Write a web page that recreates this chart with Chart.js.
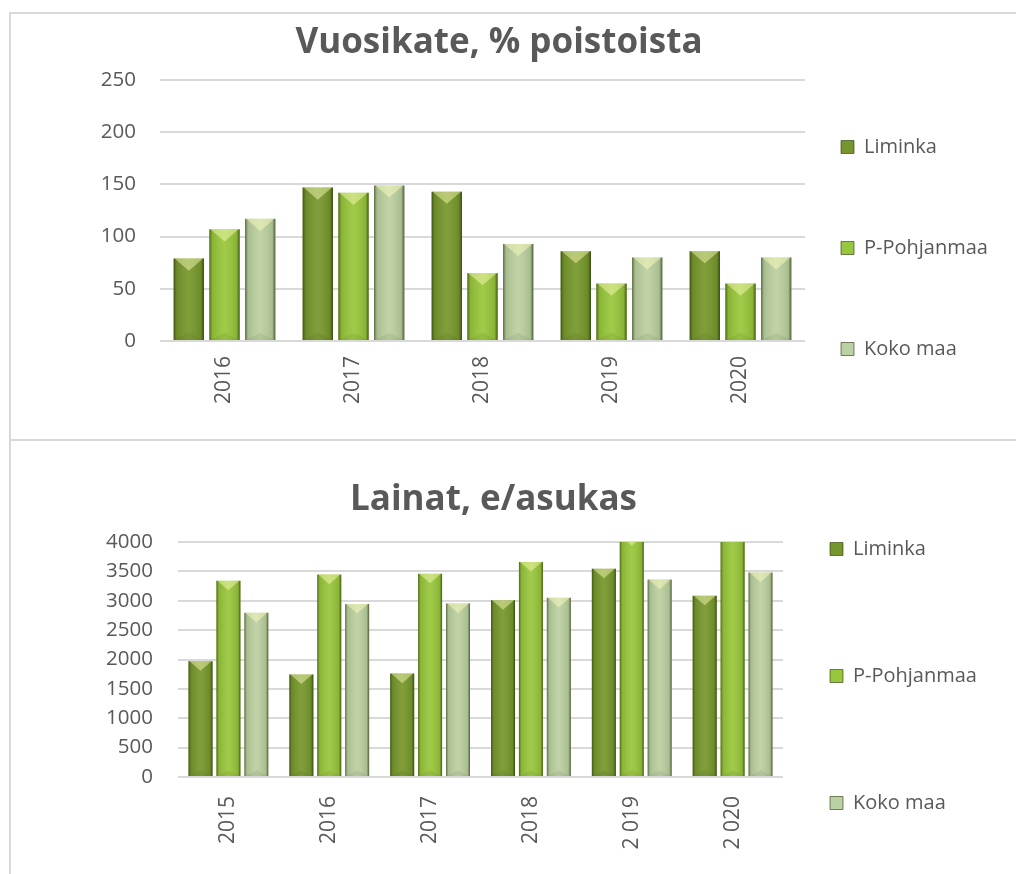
<!DOCTYPE html>
<html>
<head>
<meta charset="utf-8">
<script src="https://cdn.jsdelivr.net/npm/chart.js@4.4.1/dist/chart.umd.min.js"></script>
<style>
    html, body { margin: 0; padding: 0; background: #fff; overflow: hidden; }
    body { width: 1016px; height: 874px; position: relative; }
    .box { position: absolute; left: 0; width: 1016px; }
    #top-box { top: 0; height: 440px; }
    #bottom-box { top: 440px; height: 480px; }
    .line { position: absolute; background: #d9d9d9; }
</style>
</head>
<body>
<div class="box" id="top-box"><canvas id="chart-top"></canvas></div>
<div class="box" id="bottom-box"><canvas id="chart-bottom"></canvas></div>
<div class="line" style="left:9px;top:12px;width:1007px;height:2px"></div>
<div class="line" style="left:9px;top:12px;width:2px;height:862px"></div>
<div class="line" style="left:9px;top:439px;width:1007px;height:2px"></div>
<script>
// --- DATA ---
const seriesNames = ['Liminka', 'P-Pohjanmaa', 'Koko maa'];

// Vuosikate, % poistoista
const years1 = ['2016', '2017', '2018', '2019', '2020'];
const liminka1 = [79, 147, 143, 86, 86];
const pohjanmaa1 = [107, 142, 65, 55, 55];
const kokoMaa1 = [117, 149, 93, 80, 80];

// Lainat, e/asukas
const years2 = ['2015', '2016', '2017', '2018', '2 019', '2 020'];
const liminka2 = [1970, 1745, 1760, 3010, 3545, 3085];
const pohjanmaa2 = [3340, 3445, 3460, 3660, 4100, 4150];
const kokoMaa2 = [2795, 2945, 2955, 3050, 3360, 3480];

const COLORS = ['#76962d', '#98c63c', '#bbd0a3'];
const TEXT = '#595959';
const FONT = "'Open Sans', sans-serif";
const W = 1016;

Chart.defaults.font.family = FONT;
Chart.defaults.color = TEXT;

// --- HELPERS ---

// right padding so that the plot area ends at chartRight
function legendPadRight(chartRight, labelPad, fontSize, boxW) {
    const c = document.createElement('canvas').getContext('2d');
    c.font = fontSize + 'px ' + FONT;
    const textW = Math.max(...seriesNames.map(n => c.measureText(n).width));
    return W - chartRight - (labelPad + boxW + fontSize / 2 + textW + 10);
}

function makeDatasets(a, b, c, cp, bp) {
    return [a, b, c].map((data, i) => ({
        label: seriesNames[i],
        data,
        backgroundColor: COLORS[i],
        borderWidth: 0,
        categoryPercentage: cp,
        barPercentage: bp
    }));
}

// bevelled bar look: darker sides, light chevron on top
const bevelPlugin = {
    id: 'bevel',
    afterDatasetsDraw(chart) {
        const { ctx, chartArea: a } = chart;
        ctx.save();
        ctx.beginPath();
        ctx.rect(a.left, a.top, a.right - a.left, a.bottom - a.top);
        ctx.clip();
        chart.data.datasets.forEach((ds, i) => {
            chart.getDatasetMeta(i).data.forEach(bar => {
                const { x, y, base, width } = bar.getProps(['x', 'y', 'base', 'width'], true);
                const left = x - width / 2;
                const right = x + width / 2;
                const g = ctx.createLinearGradient(left, 0, right, 0);
                g.addColorStop(0, 'rgba(30,45,5,0.6)');
                g.addColorStop(0.1, 'rgba(30,45,5,0.12)');
                g.addColorStop(0.5, 'rgba(255,255,220,0.08)');
                g.addColorStop(0.9, 'rgba(30,45,5,0.12)');
                g.addColorStop(1, 'rgba(30,45,5,0.7)');
                ctx.fillStyle = g;
                ctx.fillRect(left, y, width, base - y);
                const d = width * 0.4;
                ctx.fillStyle = 'rgba(255,255,190,0.45)';
                ctx.beginPath();
                ctx.moveTo(left + 1, y);
                ctx.lineTo(right - 1, y);
                ctx.lineTo(x, y + d);
                ctx.closePath();
                ctx.fill();
                ctx.fillStyle = 'rgba(30,45,5,0.08)';
                ctx.beginPath();
                ctx.moveTo(left + 1, base);
                ctx.lineTo(right - 1, base);
                ctx.lineTo(x, base - d * 0.6);
                ctx.closePath();
                ctx.fill();
            });
        });
        ctx.restore();
    }
};

function legendLabels(chart) {
    const items = Chart.defaults.plugins.legend.labels.generateLabels(chart);
    items.forEach(it => {
        it.text = [it.text];
        it.lineWidth = 1;
        it.strokeStyle = 'rgba(40,55,10,0.6)';
    });
    return items;
}

// --- CHARTS ---

function drawChart(id, o) {
    return new Chart(document.getElementById(id), {
        type: 'bar',
        data: { labels: o.labels, datasets: o.datasets },
        plugins: [bevelPlugin],
        options: {
            responsive: true,
            maintainAspectRatio: false,
            animation: false,
            layout: { padding: { top: 0, left: 0, bottom: 0, right: o.padRight } },
            plugins: {
                title: {
                    display: true,
                    text: o.title,
                    color: TEXT,
                    font: { size: 35, weight: 'bold' },
                    padding: { top: o.titleTop, bottom: o.titleBottom }
                },
                legend: {
                    position: 'right',
                    align: 'end',
                    labels: {
                        color: TEXT,
                        font: { size: 20, lineHeight: o.legendLine },
                        boxWidth: 13,
                        boxHeight: 13,
                        padding: o.legendPad,
                        generateLabels: legendLabels
                    }
                },
                tooltip: { enabled: false }
            },
            scales: {
                x: {
                    grid: { display: false, drawTicks: false },
                    border: { display: false },
                    ticks: { minRotation: 90, maxRotation: 90, autoSkip: false, padding: o.xPad, font: { size: 21 } },
                    afterFit: s => { s.height = o.xHeight; }
                },
                y: {
                    min: 0,
                    max: o.yMax,
                    grid: { color: '#d9d9d9', lineWidth: 2, drawTicks: false },
                    border: { display: false },
                    ticks: {
                        stepSize: o.yStep,
                        padding: o.yPad,
                        font: { size: 20.5 },
                        callback: v => String(v)
                    },
                    afterFit: s => { s.width = o.yWidth; }
                }
            }
        }
    });
}

drawChart('chart-top', {
    labels: years1,
    datasets: makeDatasets(liminka1, pohjanmaa1, kokoMaa1, 0.83, 0.85),
    title: 'Vuosikate, % poistoista',
    titleTop: 22, titleBottom: 16,
    padRight: legendPadRight(805, 36, 20, 13),
    legendPad: 36, legendLine: 3.25,
    xPad: 15, xHeight: 99,
    yMax: 250, yStep: 50, yPad: 24, yWidth: 160
});

drawChart('chart-bottom', {
    labels: years2,
    datasets: makeDatasets(liminka2, pohjanmaa2, kokoMaa2, 0.83, 0.86),
    title: 'Lainat, e/asukas',
    titleTop: 39, titleBottom: 21,
    padRight: legendPadRight(783, 47, 20, 13),
    legendPad: 47, legendLine: 4,
    xPad: 19, xHeight: 143,
    yMax: 4000, yStep: 500, yPad: 25, yWidth: 178
});
</script>
</body>
</html>
